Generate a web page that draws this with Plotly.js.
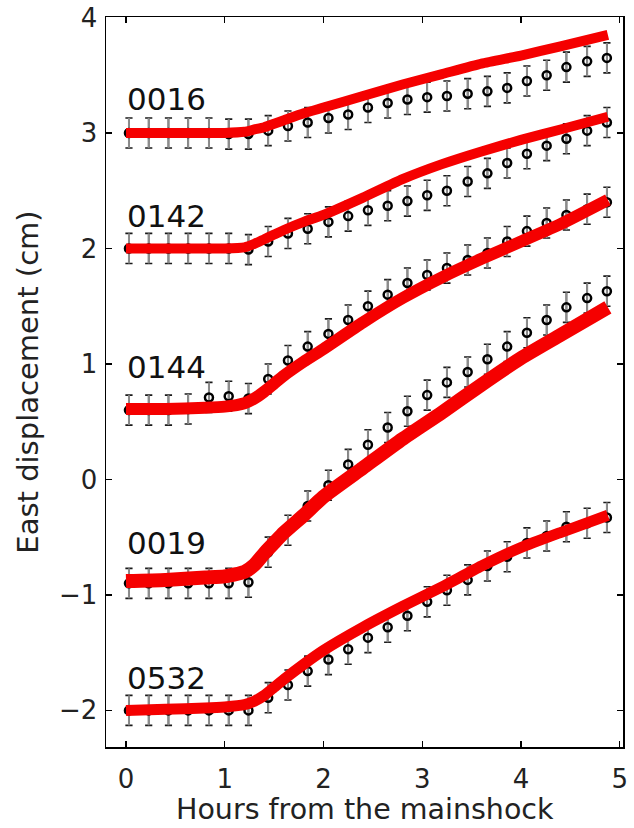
<!DOCTYPE html>
<html>
<head>
<meta charset="utf-8">
<script src="https://cdn.plot.ly/plotly-3.0.1.min.js"></script>
<style>html,body{margin:0;padding:0;background:#fff;}#chart{width:634px;height:828px;}</style>
</head>
<body>
<div id="chart"></div>
<script>
// observation times (hours from the mainshock)
var obsTime = [0.03,0.23,0.43,0.63,0.84,1.04,1.24,1.44,1.64,1.84,2.05,2.25,2.45,2.65,2.85,3.05,3.25,3.46,3.66,3.86,4.06,4.26,4.46,4.67,4.87];
// observed east displacement (cm, offset per station)
var obs0016 = [3.00,3.00,3.00,3.00,3.00,2.99,2.99,3.02,3.06,3.09,3.13,3.16,3.22,3.26,3.29,3.31,3.32,3.34,3.36,3.39,3.45,3.50,3.57,3.62,3.65];
var obs0142 = [2.00,2.00,2.00,2.00,2.00,2.00,1.99,2.06,2.13,2.17,2.23,2.28,2.33,2.37,2.41,2.46,2.50,2.58,2.65,2.74,2.82,2.89,2.95,3.02,3.09];
var obs0144 = [0.60,0.60,0.60,0.61,0.71,0.72,0.70,0.87,1.03,1.15,1.26,1.38,1.50,1.60,1.70,1.77,1.83,1.90,1.96,2.06,2.15,2.22,2.29,2.34,2.40];
var obs0019 = [-0.90,-0.90,-0.90,-0.90,-0.90,-0.90,-0.89,-0.63,-0.44,-0.23,-0.05,0.13,0.30,0.45,0.59,0.73,0.84,0.93,1.04,1.15,1.27,1.38,1.49,1.57,1.63];
var obs0532 = [-2.00,-2.00,-2.00,-2.00,-2.00,-2.00,-2.00,-1.89,-1.78,-1.66,-1.56,-1.47,-1.37,-1.28,-1.18,-1.06,-0.96,-0.87,-0.75,-0.67,-0.55,-0.49,-0.41,-0.38,-0.33];
// error (half length, cm) per station
var obsErr = [0.13,0.13,0.13,0.13,0.13];
// model curves
var modTime = [0,0.4,0.8,1.0,1.2,1.3,1.4,1.5,1.6,1.8,2.0,2.4,2.8,3.2,3.6,4.0,4.4,4.88];
var mod0016 = [3.00,3.00,3.00,3.00,3.01,3.03,3.05,3.08,3.11,3.17,3.22,3.32,3.42,3.51,3.60,3.67,3.75,3.85];
var mod0142 = [2.00,2.00,2.00,2.00,2.01,2.04,2.08,2.12,2.16,2.23,2.29,2.44,2.60,2.73,2.84,2.94,3.03,3.14];
var mod0144 = [0.61,0.61,0.62,0.63,0.66,0.70,0.76,0.83,0.90,1.02,1.13,1.36,1.57,1.75,1.91,2.06,2.21,2.42];
var mod0019 = [-0.88,-0.87,-0.85,-0.84,-0.80,-0.74,-0.64,-0.55,-0.46,-0.31,-0.15,0.10,0.35,0.58,0.82,1.05,1.25,1.49];
var mod0532 = [-2.00,-1.99,-1.98,-1.97,-1.95,-1.92,-1.87,-1.80,-1.73,-1.60,-1.48,-1.28,-1.10,-0.93,-0.75,-0.59,-0.46,-0.31];
var stations = ['0016','0142','0144','0019','0532'];
var labelY = [3.29,2.28,0.97,-0.55,-1.72];
var tickX = [0,1,2,3,4,5];
var tickY = [-2,-1,0,1,2,3,4];
var xTitle = 'Hours from the mainshock';
var yTitle = 'East displacement (cm)';

var obsAll = [obs0016,obs0142,obs0144,obs0019,obs0532];
var modAll = [mod0016,mod0142,mod0144,mod0019,mod0532];
var modWidth = [10,10,12,14,11];

var traces = [];
for (var i=0;i<stations.length;i++){
  var e = obsErr[i];
  var errArr = obsTime.map(function(){return e;});
  traces.push({x:obsTime,y:obsAll[i],mode:'markers',type:'scatter',showlegend:false,hoverinfo:'skip',
    marker:{size:1,color:'rgba(0,0,0,0)'},
    error_y:{type:'data',array:errArr,visible:true,color:'#1a1a1a',thickness:1.6,width:3.6}});
  traces.push({x:obsTime,y:obsAll[i],mode:'markers',type:'scatter',showlegend:false,
    marker:{symbol:'circle-open',size:8,color:'#000',line:{width:2.5,color:'#000'}},
    error_y:{type:'data',array:errArr,visible:true,color:'#8c8c8c',thickness:2,width:0}});
}
for (var j=0;j<stations.length;j++){
  traces.push({x:modTime,y:modAll[j],mode:'lines',type:'scatter',showlegend:false,
    line:{color:'rgb(245,0,0)',width:modWidth[j],shape:'spline',smoothing:0.5}});
}
var ann = stations.map(function(s,k){
  return {x:-0.01,y:labelY[k],xref:'x',yref:'y',text:s,showarrow:false,xanchor:'left',yanchor:'middle',
    font:{family:'DejaVu Sans',size:31,color:'#111'}};
});
// x-axis title placed as paper annotation so it can sit lower in the margin
ann.push({x:0.5,y:-0.1095,xref:'paper',yref:'paper',text:xTitle,showarrow:false,xanchor:'center',yanchor:'bottom',
  borderpad:0,font:{family:'DejaVu Sans',size:28.5,color:'#222'}});
var axCommon = {showgrid:false,zeroline:false,showline:true,linecolor:'#000',linewidth:1.5,mirror:'ticks',
  ticks:'inside',ticklen:6,tickwidth:1.3,tickcolor:'#000',tickfont:{family:'DejaVu Sans',size:26,color:'#222'}};
var layout = {
  width:634,height:828,margin:{l:106,r:11,t:17,b:81},paper_bgcolor:'#fff',plot_bgcolor:'#fff',
  showlegend:false,
  xaxis:Object.assign({},axCommon,{range:[-0.2025,5.033],tickvals:tickX,ticktext:tickX.map(String),ticklabelstandoff:8}),
  yaxis:Object.assign({},axCommon,{range:[-2.317,4.004],tickvals:tickY,ticklabelstandoff:2,
    title:{text:yTitle,font:{family:'DejaVu Sans',size:29,color:'#222'},standoff:12}}),
  annotations:ann
};
Plotly.newPlot('chart',traces,layout,{displayModeBar:false,staticPlot:true});
</script>
</body>
</html>
